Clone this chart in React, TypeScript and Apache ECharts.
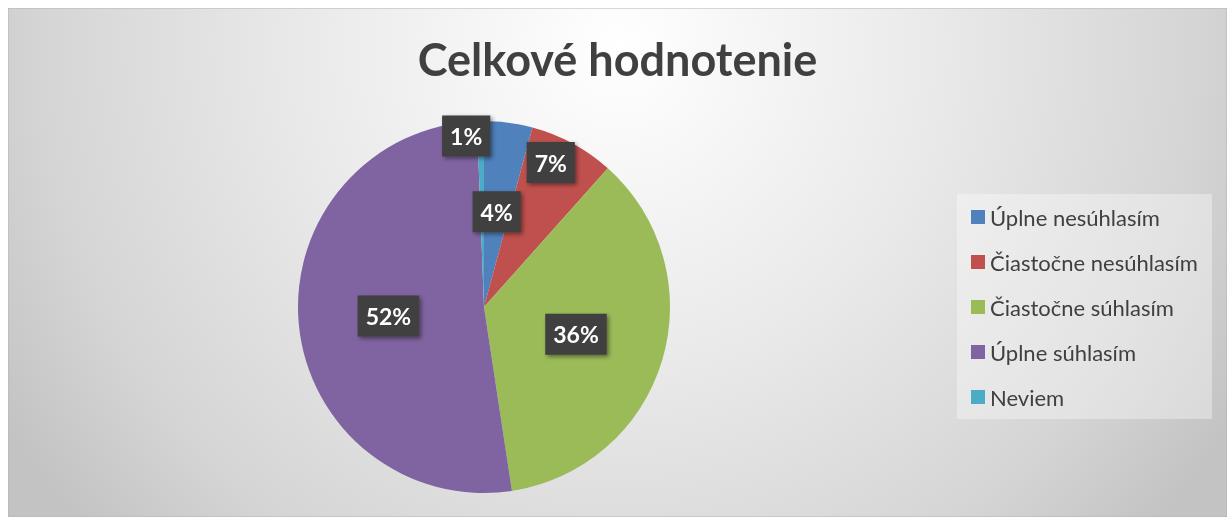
import React, { useEffect, useRef } from "react";
import * as echarts from "echarts";

const titleText = "Celkové hodnotenie";
const categories = [
  "Úplne nesúhlasím",
  "Čiastočne nesúhlasím",
  "Čiastočne súhlasím",
  "Úplne súhlasím",
  "Neviem",
];
const values = [4.2, 7.4, 36.0, 51.8, 0.6];
const colors = ["#4F81BD", "#C0504D", "#9BBB59", "#8064A2", "#4BACC6"];

const W = 1219;
const H = 509;

export default function App() {
  const ref = useRef<HTMLDivElement>(null);
  useEffect(() => {
    const chart = echarts.init(ref.current!, null, { renderer: "svg" });
    chart.setOption({
      animation: false,
      graphic: [
        {
          type: "rect",
          z: -10,
          silent: true,
          shape: { x: 0, y: 0, width: W, height: H },
          style: {
            fill: {
              type: "radial",
              x: 610,
              y: 40,
              r: 720,
              global: true,
              colorStops: [
                { offset: 0, color: "#ffffff" },
                { offset: 0.45, color: "#e9e9e9" },
                { offset: 0.8, color: "#d5d5d5" },
                { offset: 1, color: "#c3c3c3" },
              ],
            },
            stroke: "#b4b4b4",
            lineWidth: 1,
          },
        },
        {
          type: "rect",
          z: -5,
          silent: true,
          shape: { x: 949, y: 186, width: 255, height: 225 },
          style: { fill: "rgba(255,255,255,0.35)" },
        },
      ],
      title: {
        text: titleText,
        left: "center",
        top: 23,
        textStyle: {
          fontFamily: "Lato",
          fontWeight: "bold",
          fontSize: 45,
          lineHeight: 45,
          color: "#404040",
        },
      },
      legend: {
        orient: "vertical",
        left: 958,
        top: 193,
        padding: 5,
        itemWidth: 14,
        itemHeight: 14,
        itemGap: 23,
        icon: "rect",
        selectedMode: false,
        data: categories,
        textStyle: {
          fontFamily: "Lato",
          fontSize: 22,
          lineHeight: 22,
          color: "#404040",
        },
      },
      series: [
        {
          type: "pie",
          center: [476, 299],
          radius: 186,
          startAngle: 90,
          clockwise: true,
          percentPrecision: 0,
          avoidLabelOverlap: false,
          emphasis: { disabled: true },
          itemStyle: { borderWidth: 0 },
          label: {
            show: true,
            position: "inside",
            formatter: "{d}%",
            fontFamily: "Lato",
            fontWeight: "bold",
            fontSize: 23,
            lineHeight: 23,
            color: "#ffffff",
            backgroundColor: "#3f3f3f",
            padding: [9, 8, 9, 8],
            shadowColor: "rgba(0,0,0,0.45)",
            shadowBlur: 4,
            shadowOffsetX: 2,
            shadowOffsetY: 2,
          },
          labelLine: { show: false },
          labelLayout: (params: any) => {
            if (params.dataIndex === 1) return { dx: 21, dy: -60 };
            if (params.dataIndex === 4) return { dx: -16, dy: -75 };
            return {};
          },
          data: categories.map((name, i) => ({
            name,
            value: values[i],
            itemStyle: { color: colors[i] },
          })),
        },
      ],
    });
    return () => chart.dispose();
  }, []);
  return (
    <div
      ref={ref}
      style={{ position: "fixed", left: 8, top: 8, width: W, height: H }}
    />
  );
}
